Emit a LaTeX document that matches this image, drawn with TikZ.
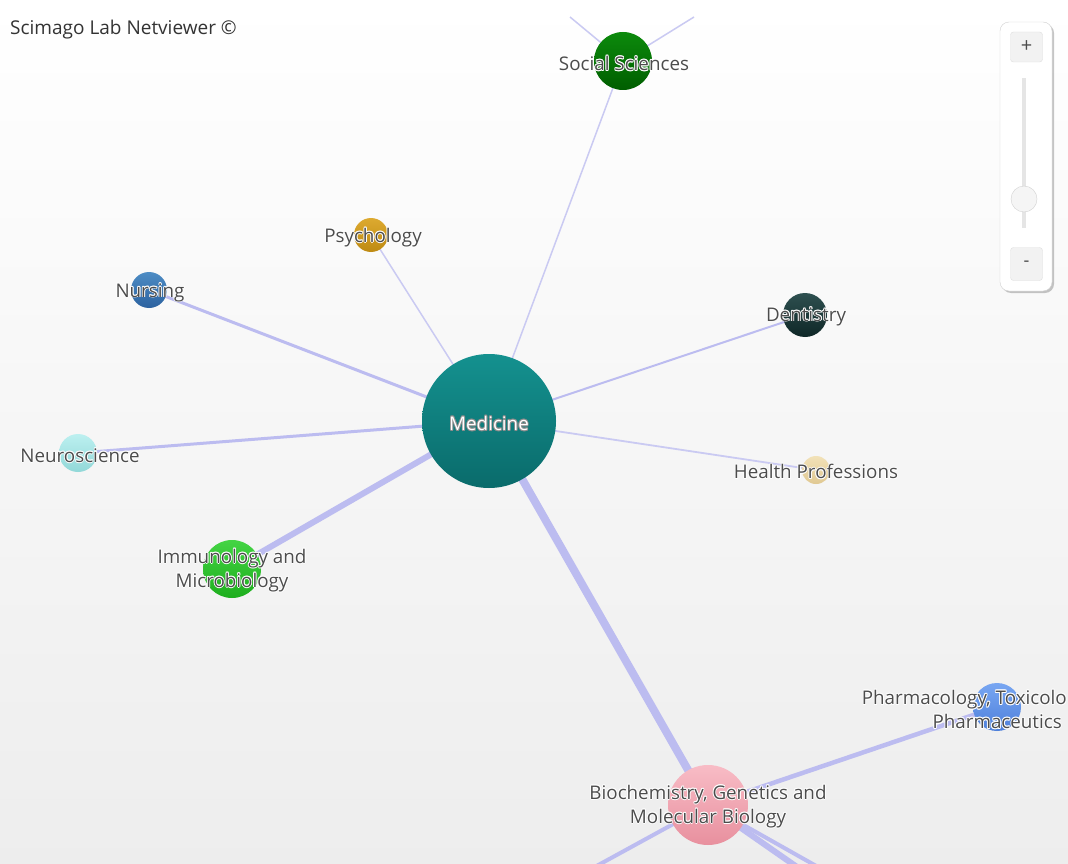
\documentclass[tikz,border=0pt]{standalone}
\usepackage{fontspec}
\setmainfont{Open Sans}
\usetikzlibrary{backgrounds,shadows}
\definecolor{edgecol}{HTML}{BCBCF0}
\definecolor{edgelite}{HTML}{CACAF2}
\definecolor{labcol}{HTML}{4C4C4C}
\definecolor{medT}{HTML}{14918F}\definecolor{medB}{HTML}{0A6B6B}
\definecolor{socT}{HTML}{0C8A0C}\definecolor{socB}{HTML}{005E00}
\definecolor{psyT}{HTML}{DDAA30}\definecolor{psyB}{HTML}{BE8A12}
\definecolor{nurT}{HTML}{4D8CC4}\definecolor{nurB}{HTML}{2C62A0}
\definecolor{denT}{HTML}{2E5050}\definecolor{denB}{HTML}{0E2626}
\definecolor{neuT}{HTML}{BCF0F0}\definecolor{neuB}{HTML}{92D8D8}
\definecolor{heaT}{HTML}{F2E2B8}\definecolor{heaB}{HTML}{E0C892}
\definecolor{immT}{HTML}{44D444}\definecolor{immB}{HTML}{1EAE1E}
\definecolor{phaT}{HTML}{78A6F2}\definecolor{phaB}{HTML}{4E80DA}
\definecolor{bioT}{HTML}{F8BCC6}\definecolor{bioB}{HTML}{E8909E}
\newcommand\halo[2]{\leavevmode
  \rlap{\color{#1}\kern-.8pt#2}\rlap{\color{#1}\kern.8pt#2}%
  \rlap{\color{#1}\raisebox{.8pt}{#2}}\rlap{\color{#1}\raisebox{-.8pt}{#2}}%
  \rlap{\color{#1}\kern.6pt\raisebox{.6pt}{#2}}\rlap{\color{#1}\kern-.6pt\raisebox{.6pt}{#2}}%
  \rlap{\color{#1}\kern.6pt\raisebox{-.6pt}{#2}}\rlap{\color{#1}\kern-.6pt\raisebox{-.6pt}{#2}}%
  #2}
\tikzset{
  ball/.style={circle, inner sep=0pt, draw=none, top color=#1T, bottom color=#1B},
  lab/.style={inner sep=0pt, align=center, text=labcol, yshift=-2.5pt,
              font=\fontsize{18.8}{24}\selectfont},
  edge/.style={draw=edgecol, line width=#1},
  btn/.style={draw=black!13, fill=black!5, rounded corners=3pt},
}
\begin{document}
\begin{tikzpicture}[x=1pt,y=-1pt]
\useasboundingbox (0,0) rectangle (1068,864);
% nodes
\node[ball=med, minimum size=134pt] (med) at (489,421) {};
\node[ball=soc, minimum size=58pt] (soc) at (623,61) {};
\node[ball=psy, minimum size=34pt] (psy) at (371,235) {};
\node[ball=nur, minimum size=36pt] (nur) at (149,290) {};
\node[ball=den, minimum size=44pt] (den) at (805,315) {};
\node[ball=neu, minimum size=38pt] (neu) at (78,453) {};
\node[ball=hea, minimum size=28pt] (hea) at (816,470) {};
\node[ball=imm, minimum size=58pt] (imm) at (232,569) {};
\node[ball=pha, minimum size=48pt] (pha) at (997,707) {};
\node[ball=bio, minimum size=80pt] (bio) at (708,805) {};
\coordinate (socA) at (570,17);
\coordinate (socBB) at (694,17);
\coordinate (bioA) at (560,886);
\coordinate (bioBB) at (830,890);
\coordinate (bioC) at (850,885);
% labels
\node[lab, text=white] (medL) at (med) {\halo{black!45}{Medicine}};
\node[lab] (socL) at (624,61) {\halo{white}{Social Sciences}};
\node[lab] (psyL) at (373,235) {\halo{white}{Psychology}};
\node[lab] (nurL) at (150,290) {\halo{white}{Nursing}};
\node[lab] (denL) at (806,314) {\halo{white}{Dentistry}};
\node[lab] (neuL) at (80,453) {\halo{white}{Neuroscience}};
\node[lab] (heaL) at (816,469) {\halo{white}{Health Professions}};
\node[lab] (immL) at (232,568) {\halo{white}{Immunology and}\\\halo{white}{Microbiology}};
\node[lab, align=right, anchor=east] (phaL) at (1067,707) {\halo{white}{Pharmacology, Toxicolo}\\\halo{white}{Pharmaceutics}\kern5pt};
\node[lab] (bioL) at (708,804) {\halo{white}{Biochemistry, Genetics and}\\\halo{white}{Molecular Biology}};
% background and edges
\begin{scope}[on background layer]
  \shade[top color=white, bottom color=black!7] (0,0) rectangle (1068,864);
  \draw[edge=1.5pt, draw=edgelite] (med.center) -- (soc.center);
  \draw[edge=1.5pt, draw=edgelite] (soc.center) -- (socA);
  \draw[edge=1.5pt, draw=edgelite] (soc.center) -- (socBB);
  \draw[edge=1.5pt, draw=edgelite] (med.center) -- (psy.center);
  \draw[edge=3pt] (med.center) -- (nur.center);
  \draw[edge=2pt] (med.center) -- (den.center);
  \draw[edge=3pt] (med.center) -- (neu.center);
  \draw[edge=1.8pt, draw=edgelite] (med.center) -- (hea.center);
  \draw[edge=6pt] (med.center) -- (imm.center);
  \draw[edge=8pt] (med.center) -- (bio.center);
  \draw[edge=4.5pt] (bio.center) -- (pha.center);
  \draw[edge=4pt] (bio.center) -- (bioA);
  \draw[edge=6pt] (bio.center) -- (bioBB);
  \draw[edge=4pt] (bio.center) -- (bioC);
\end{scope}
% title
\node[fill=white, fill opacity=0.8, text opacity=1, inner xsep=10pt, inner ysep=4pt, anchor=west,
      text=black!80, font=\fontsize{19}{22}\selectfont] (title) at (0,30) {Scimago Lab Netviewer ©};
% zoom control
\node[draw=black!18, fill=white, rounded corners=9pt, minimum width=52pt, minimum height=269pt,
      drop shadow={shadow xshift=2pt, shadow yshift=-2pt, opacity=0.45}] (panel) at (1026,156.5) {};
\node[btn, minimum width=32pt, minimum height=30pt, font=\fontsize{20}{22}\selectfont, text=black!70] (plus) at (1026.5,47) {+};
\node[btn, minimum width=32pt, minimum height=33pt, font=\fontsize{18}{20}\selectfont, text=black!70] (minus) at (1026.5,264) {-};
\node[fill=black!10, minimum width=4pt, minimum height=150pt, inner sep=0pt] (track) at (1024,153) {};
\node[circle, draw=black!18, fill=black!4, minimum size=26pt, inner sep=0pt] (knob) at (1024,199) {};
\end{tikzpicture}
\end{document}
